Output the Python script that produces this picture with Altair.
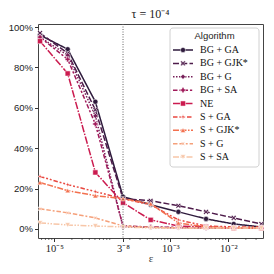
import altair as alt
import pandas as pd

# x values: powers of 3 from 3^-11 to 3^-3
exps = [-11, -10, -9, -8, -7, -6, -5, -4, -3]
eps = [3.0 ** e for e in exps]

algs = ["BG+GA", "BG+GJK*", "BG+G", "BG+SA", "NE", "S+GA", "S+GJK*", "S+G", "S+SA"]
labels = ["BG + GA", "BG + GJK*", "BG + G", "BG + SA", "NE", "S + GA", "S + GJK*", "S + G", "S + SA"]

bg_ga = [96, 89, 63, 16, 12, 8.5, 5, 2.5, 1]
bg_gjk = [97, 87, 59, 15, 14, 11.5, 8.5, 5.5, 2.5]
bg_g = [95, 86, 56, 1, 0.8, 0.6, 0.5, 0.5, 0.5]
bg_sa = [95, 84, 52, 1.5, 1, 0.8, 0.6, 0.5, 0.5]
ne = [93, 77, 28, 13, 4.5, 1.5, 1, 0.5, 0.5]
s_ga = [26, 22, 18.5, 15, 12, 4.5, 1.5, 1, 1]
s_gjk = [23, 19, 16.5, 15, 12.5, 3, 1, 0.5, 0.5]
s_g = [10, 8, 5.5, 1.5, 0.8, 0.5, 0.5, 0.5, 0.5]
s_sa = [3, 2, 1.5, 1, 0.5, 0.5, 0.5, 0.5, 0.5]
series = [bg_ga, bg_gjk, bg_g, bg_sa, ne, s_ga, s_gjk, s_g, s_sa]

colors = ["#2e1a3c", "#4e1c4b", "#761f58", "#a01a5a", "#cb1b4f",
          "#e9473f", "#f3704e", "#f5a07a", "#f7c6a8"]
dashes = [[1, 0], [6, 2.25], [1.5, 1.5], [4.5, 1.9, 2.25, 1.9], [7.5, 1.5, 1.5, 1.5],
          [4.5, 1.9, 1.9, 1.9, 1.9, 1.9], [6, 1.5, 6, 1.5, 1.5, 1.5],
          [4.5, 1.9, 4.5, 1.9, 1.9, 1.9], [6, 1.5, 1.5, 1.5, 1.5, 1.5]]
X_PATH = "M-1,-0.6L-0.6,-1L0,-0.4L0.6,-1L1,-0.6L0.4,0L1,0.6L0.6,1L0,0.4L-0.6,1L-1,0.6L-0.4,0Z"
STAR4 = "M0,-1L0.25,-0.25L1,0L0.25,0.25L0,1L-0.25,0.25L-1,0L-0.25,-0.25Z"
STAR4R = "M-0.75,-0.75L0,-0.35L0.75,-0.75L0.35,0L0.75,0.75L0,0.35L-0.75,0.75L-0.35,0Z"
shapes = ["circle", X_PATH, "diamond", "cross", "square", STAR4, "triangle-up", STAR4R, "triangle-down"]

xtick_vals = [1e-5, 3.0 ** -8, 1e-3, 1e-2]
xtick_labels = ["10⁻⁵", "3⁻⁸", "10⁻³", "10⁻²"]
minor_ticks = [m * 10.0 ** d for d in [-6, -5, -4, -3, -2] for m in range(2, 10)]
minor_ticks = [t for t in minor_ticks if 5.21e-6 < t < 0.0395]
ytick_vals = [0, 20, 40, 60, 80, 100]
vline_x = [3.0 ** -8]
title_text = "τ = 10⁻⁴"

rows = []
for a, s in zip(algs, series):
    for e, v in zip(eps, s):
        rows.append({"alg": a, "eps": e, "v": v})
df = pd.DataFrame(rows)
leg_df = pd.DataFrame({"alg": algs, "label": labels})

W, H = 225, 214
xscale = alt.Scale(type="log", domain=[5.21e-6, 0.0395], nice=False)
yscale = alt.Scale(domain=[-4.46, 101.5], nice=False, zero=False)
cscale = alt.Scale(domain=algs, range=colors)
dscale = alt.Scale(domain=algs, range=dashes)
sscale = alt.Scale(domain=algs, range=shapes)

label_expr = " : ".join(
    f"abs(datum.value - {v}) < {v*0.01} ? '{l}'" for v, l in zip(xtick_vals, xtick_labels)
) + " : ''"

xaxis = alt.Axis(values=xtick_vals, labelExpr=label_expr, title="ε", grid=False,
                 domain=False, tickSize=3.5, tickColor="#333", labelFont="Liberation Serif",
                 labelFontSize=10.5, labelColor="#222", labelPadding=2,
                 titleFont="Liberation Serif", titleFontSize=11, titleFontWeight="normal",
                 titleColor="#444", titlePadding=-2)
yaxis = alt.Axis(values=ytick_vals, labelExpr="datum.value + '%'", title=None, grid=False,
                 domain=False, tickSize=3.5, tickColor="#333", labelFont="Liberation Sans",
                 labelFontSize=9.5, labelColor="#222", labelPadding=2)

X = alt.X("eps:Q", scale=xscale, axis=xaxis)

base = alt.Chart(df)
lines = base.mark_line(strokeWidth=1.5).encode(
    x=X,
    y=alt.Y("v:Q", scale=yscale, axis=yaxis),
    color=alt.Color("alg:N", scale=cscale, legend=None),
    strokeDash=alt.StrokeDash("alg:N", scale=dscale, legend=None),
    detail="alg:N",
)
points = base.mark_point(filled=True, size=26, opacity=1, stroke="white", strokeWidth=0.5).encode(
    x=X,
    y=alt.Y("v:Q", scale=yscale, axis=None),
    color=alt.Color("alg:N", scale=cscale, legend=None),
    shape=alt.Shape("alg:N", scale=sscale, legend=None),
)
vline = alt.Chart(pd.DataFrame({"eps": vline_x})).mark_rule(
    color="#666", strokeDash=[1, 1.5], strokeWidth=1).encode(
    x=X, y=alt.value(0), y2=alt.value(H))
minor = alt.Chart(pd.DataFrame({"eps": minor_ticks})).mark_rule(
    color="#333", strokeWidth=0.7).encode(
    x=X, y=alt.value(H), y2=alt.value(H + 2))

one = pd.DataFrame({"a": [0]})
title_mark = alt.Chart(one).mark_text(text=title_text, font="Liberation Serif", fontSize=12,
                                      color="#222", align="center", baseline="middle").encode(
    x=alt.value(W / 2), y=alt.value(-10))
leg_box = alt.Chart(one).mark_rect(fill="white", fillOpacity=0.85, stroke="#d0d0d0",
                                   strokeWidth=1, cornerRadius=3).encode(
    x=alt.value(132), x2=alt.value(221), y=alt.value(4), y2=alt.value(143))
leg_title = alt.Chart(one).mark_text(text="Algorithm", font="Liberation Sans", fontSize=9.5,
                                     color="#222", align="center", baseline="middle").encode(
    x=alt.value(176.5), y=alt.value(12))
leg_y = alt.Y("alg:N", scale=alt.Scale(domain=algs, range=[26, 133], type="point", padding=0), axis=None)
leg_lines = alt.Chart(leg_df).mark_rule(strokeWidth=1.5).encode(
    x=alt.value(135), x2=alt.value(155), y=leg_y,
    color=alt.Color("alg:N", scale=cscale, legend=None),
    strokeDash=alt.StrokeDash("alg:N", scale=dscale, legend=None))
leg_pts = alt.Chart(leg_df).mark_point(filled=True, size=26, opacity=1, stroke="white",
                                       strokeWidth=0.5).encode(
    x=alt.value(145), y=leg_y,
    color=alt.Color("alg:N", scale=cscale, legend=None),
    shape=alt.Shape("alg:N", scale=sscale, legend=None))
leg_text = alt.Chart(leg_df).mark_text(font="Liberation Serif", fontSize=10, color="#111",
                                       align="left", baseline="middle").encode(
    x=alt.value(162), y=leg_y, text="label:N")

chart = alt.layer(lines, points, vline, minor, title_mark, leg_box, leg_title, leg_lines,
                  leg_pts, leg_text).resolve_scale(
    y="independent"
).properties(
    width=W, height=H,
    autosize=alt.AutoSizeParams(type="none"),
    padding={"left": 30, "top": 16, "right": 3, "bottom": 30},
).configure_view(stroke="#444", strokeWidth=1)

chart.save("out.html", embed_options={"renderer": "svg", "actions": False})
